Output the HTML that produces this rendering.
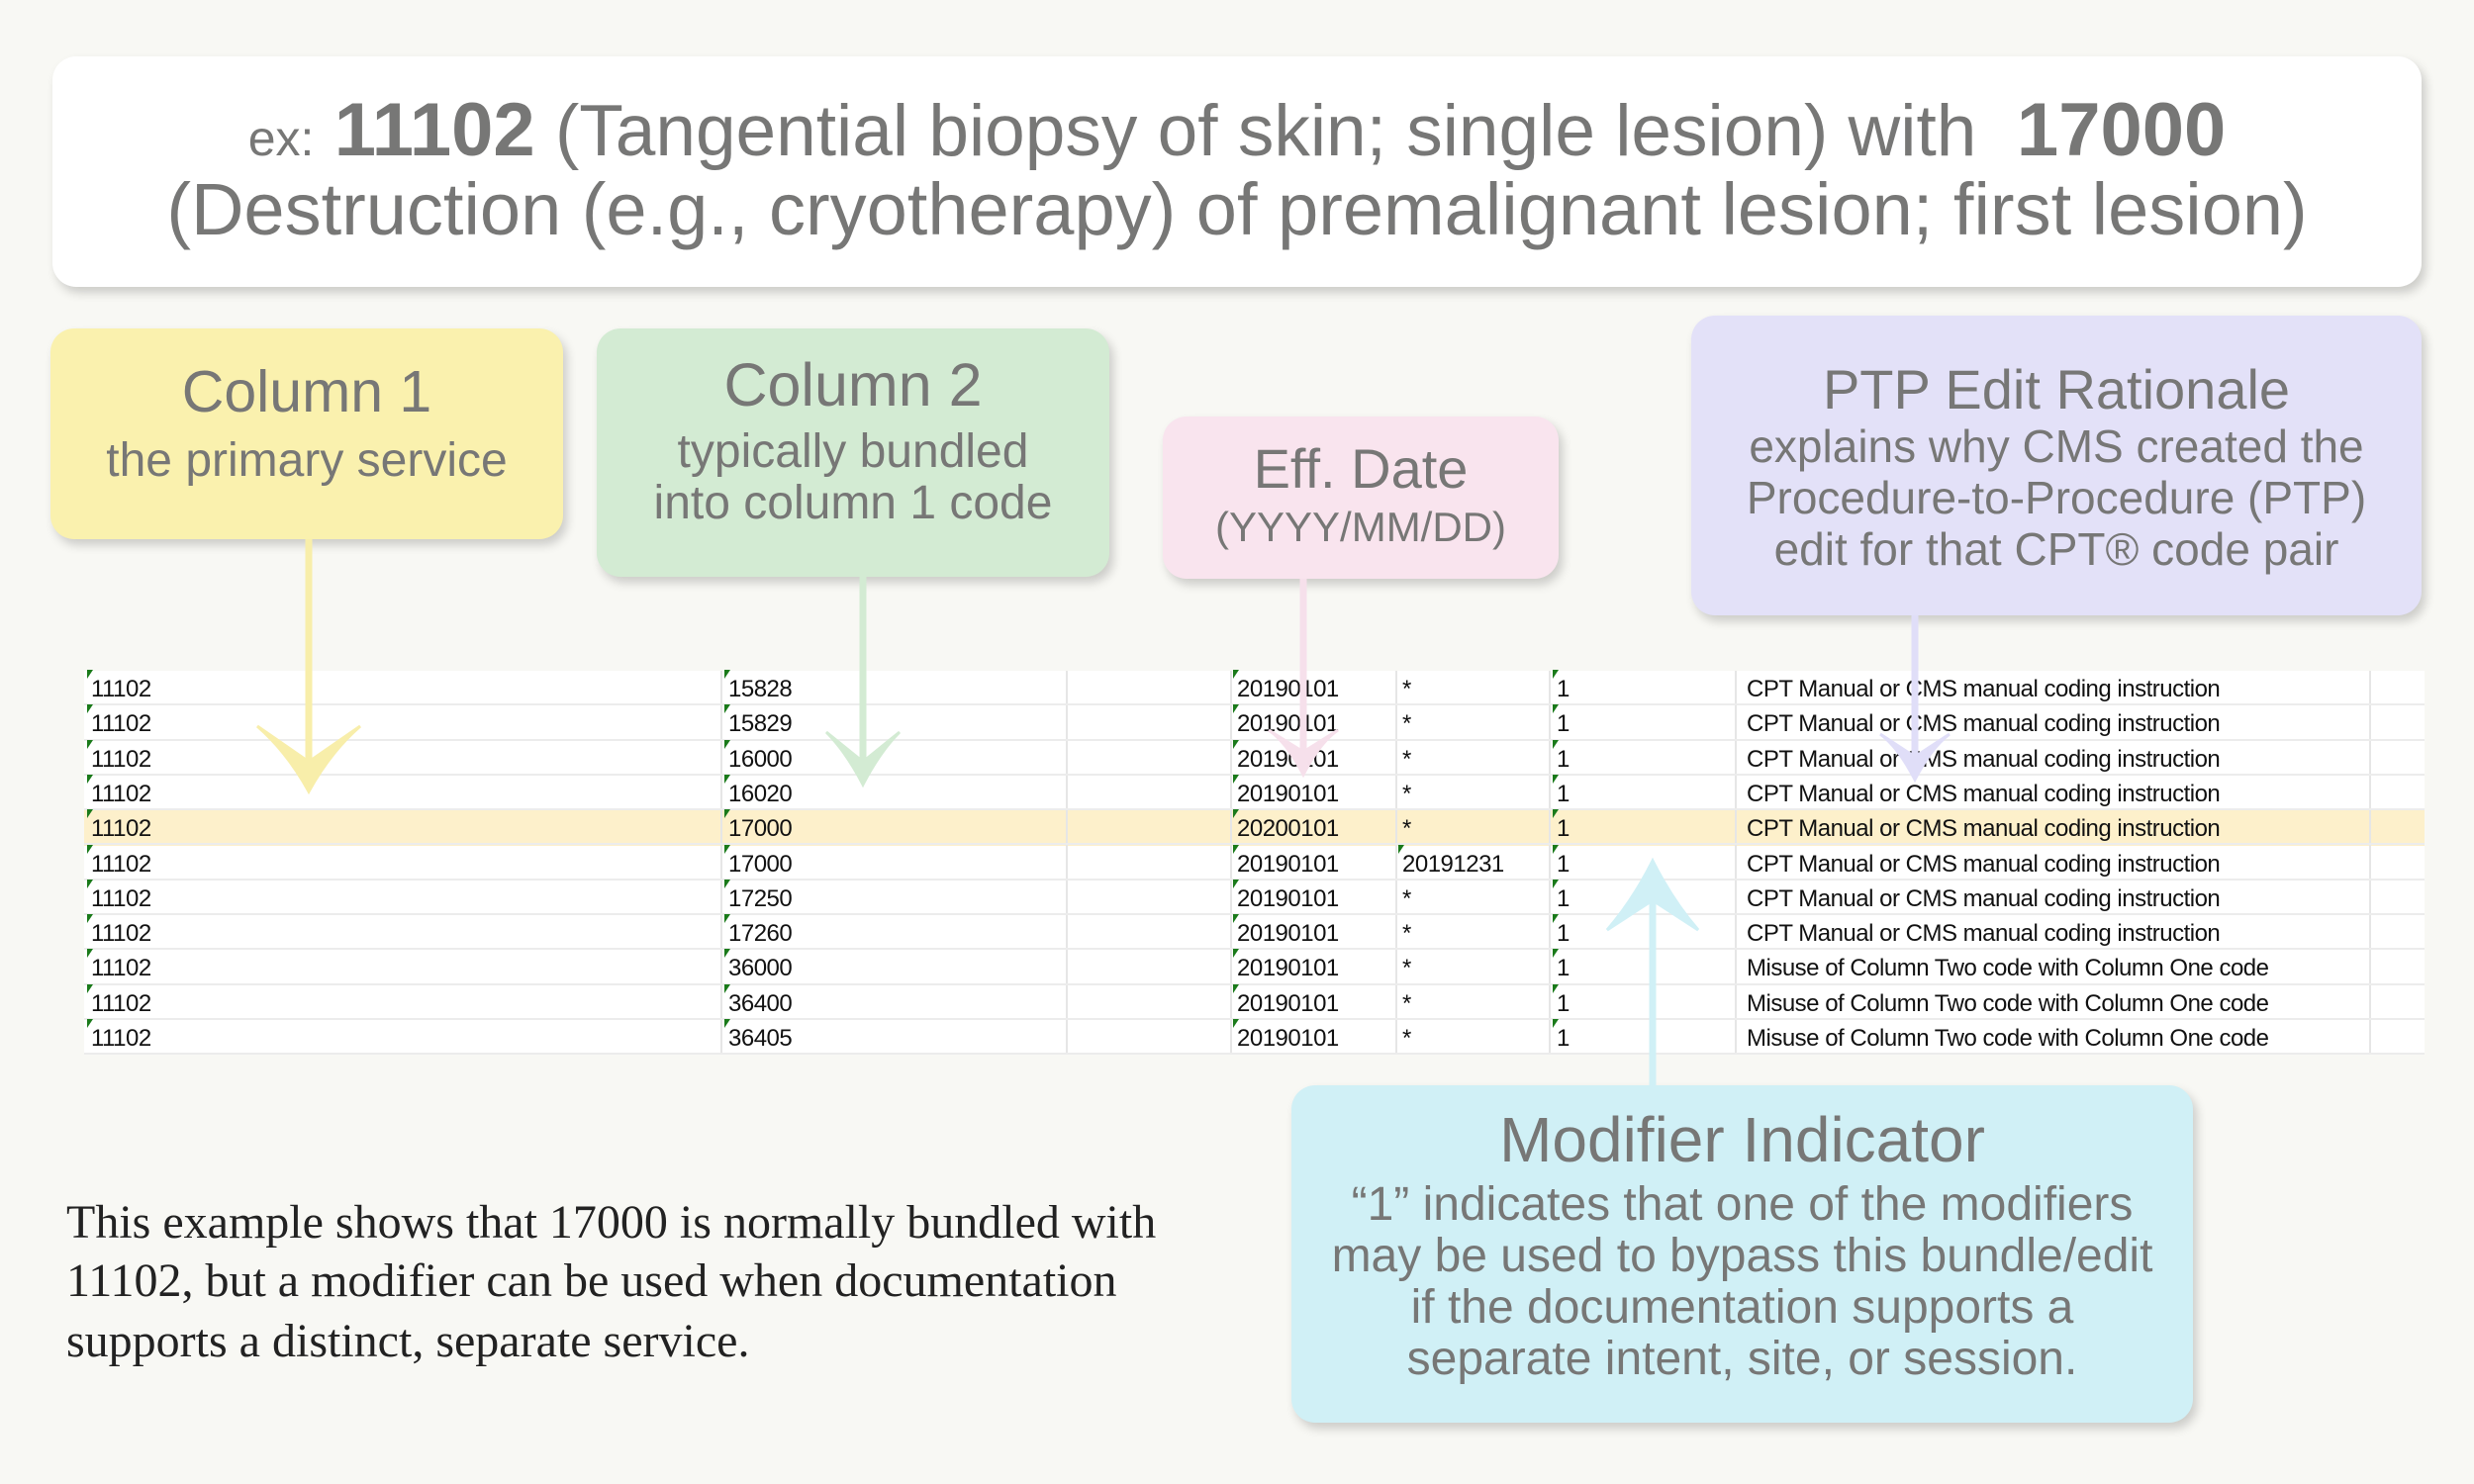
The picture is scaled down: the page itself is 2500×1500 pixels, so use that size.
<!DOCTYPE html>
<html><head><meta charset="utf-8"><style>
*{margin:0;padding:0;box-sizing:border-box}
body{width:2500px;height:1500px;background:#f8f8f4;position:relative;overflow:hidden;font-family:"Liberation Sans",sans-serif;color:#777776}
.box{position:absolute;border-radius:24px;box-shadow:4px 6px 10px rgba(0,0,0,0.18);text-align:center}
.t{position:absolute;left:0;right:0;text-align:center;white-space:nowrap}
.tbl{position:absolute;left:85px;top:678px;width:2365px;height:388px;background:#fff}
.row{position:absolute;left:0;width:2365px;height:35.3px;border-bottom:2px solid #ececec}
.c{position:absolute;top:7px;font-size:24px;color:#111;letter-spacing:-0.5px;white-space:nowrap}
.g::before{content:"";position:absolute;left:-4px;top:-6px;border-top:9px solid #1a7a1a;border-right:6px solid transparent}
.vl{position:absolute;top:0;width:2px;height:388px;background:#e6e6e6}
.serif{position:absolute;left:67px;font-family:"Liberation Serif",serif;font-size:48px;color:#222}
</style></head><body>

<div class="box" style="left:53px;top:57px;width:2394px;height:233px;background:#fff">
<div class="t" style="top:38px;font-size:73px;line-height:74px"><span style="font-size:50px">ex:</span> <b style="font-size:76px">11102</b> (Tangential biopsy of skin; single lesion) with&nbsp; <b style="font-size:76px">17000</b></div>
<div class="t" style="top:118px;font-size:74px;line-height:74px">(Destruction (e.g., cryotherapy) of premalignant lesion; first lesion)</div>
</div>

<div class="box" style="left:51px;top:332px;width:518px;height:213px;background:#faf1ae">
<div class="t" style="top:30px;font-size:59px">Column 1</div>
<div class="t" style="top:106px;font-size:48px">the primary service</div>
</div>
<div class="box" style="left:603px;top:332px;width:518px;height:251px;background:#d3ebd3">
<div class="t" style="top:22px;font-size:61px">Column 2</div>
<div class="t" style="top:99px;font-size:48px;line-height:52px">typically bundled<br>into column 1 code</div>
</div>
<div class="box" style="left:1175px;top:421px;width:400px;height:164px;background:#f9e4ee">
<div class="t" style="top:20px;font-size:56px">Eff. Date</div>
<div class="t" style="top:88px;font-size:42px">(YYYY/MM/DD)</div>
</div>
<div class="box" style="left:1709px;top:319px;width:738px;height:303px;background:#e3e1f8">
<div class="t" style="top:42px;font-size:56px">PTP Edit Rationale</div>
<div class="t" style="top:106px;font-size:46px;line-height:52px">explains why CMS created the<br>Procedure-to-Procedure (PTP)<br>edit for that CPT® code pair</div>
</div>

<div class="tbl">
<div style="position:absolute;left:0;top:141px;width:2365px;height:36px;background:#fdf0cb"></div>
<div class="vl" style="left:643px"></div><div class="vl" style="left:992px"></div><div class="vl" style="left:1158px"></div><div class="vl" style="left:1325px"></div><div class="vl" style="left:1480px"></div><div class="vl" style="left:1668px"></div><div class="vl" style="left:2309px"></div>
</div>
<div id="rows"></div>

<div class="box" style="left:1305px;top:1097px;width:911px;height:341px;background:#d0f0f6">
<div class="t" style="top:18px;font-size:64px">Modifier Indicator</div>
<div class="t" style="top:95px;font-size:48px;line-height:52px">“1” indicates that one of the modifiers<br>may be used to bypass this bundle/edit<br>if the documentation supports a<br>separate intent, site, or session.</div>
</div>

<div class="serif" style="top:1208px">This example shows that 17000 is normally bundled with</div>
<div class="serif" style="top:1267px">11102, but a modifier can be used when documentation</div>
<div class="serif" style="top:1328px">supports a distinct, separate service.</div>

<svg width="2500" height="1500" style="position:absolute;left:0;top:0">
<g stroke-width="7">
<line x1="312" y1="545" x2="312" y2="790" stroke="#f8eeaa"/>
<path d="M312,800 Q290,760 260,734 L312,770 L364,734 Q334,760 312,800Z" fill="#f8eeaa" stroke="#f8eeaa" stroke-width="3"/>
<line x1="872" y1="583" x2="872" y2="785" stroke="#d3ebd3"/>
<path d="M872,793 Q855,760 835,740 L872,770 L909,740 Q889,760 872,793Z" fill="#d3ebd3" stroke="#d3ebd3" stroke-width="3"/>
<line x1="1317" y1="585" x2="1317" y2="775" stroke="#f6e0eb"/>
<path d="M1317,783 Q1300,750 1282,738 L1317,760 L1352,738 Q1334,750 1317,783Z" fill="#f6e0eb" stroke="#f6e0eb" stroke-width="3"/>
<line x1="1935" y1="622" x2="1935" y2="780" stroke="#e0def8"/>
<path d="M1935,788 Q1918,755 1900,742 L1935,765 L1970,742 Q1952,755 1935,788Z" fill="#e0def8" stroke="#e0def8" stroke-width="3"/>
<line x1="1670" y1="1097" x2="1670" y2="880" stroke="#d0f0f6"/>
<path d="M1670,870 Q1650,910 1624,940 L1670,910 L1716,940 Q1690,910 1670,870Z" fill="#d0f0f6" stroke="#d0f0f6" stroke-width="3"/>
</g>
</svg>

<script>
var d=[["15828","20190101","*","CPT Manual or CMS manual coding instruction"],["15829","20190101","*","CPT Manual or CMS manual coding instruction"],["16000","20190101","*","CPT Manual or CMS manual coding instruction"],["16020","20190101","*","CPT Manual or CMS manual coding instruction"],["17000","20200101","*","CPT Manual or CMS manual coding instruction"],["17000","20190101","20191231","CPT Manual or CMS manual coding instruction"],["17250","20190101","*","CPT Manual or CMS manual coding instruction"],["17260","20190101","*","CPT Manual or CMS manual coding instruction"],["36000","20190101","*","Misuse of Column Two code with Column One code"],["36400","20190101","*","Misuse of Column Two code with Column One code"],["36405","20190101","*","Misuse of Column Two code with Column One code"]];
var h="";
for(var i=0;i<11;i++){var y=678+i*35.3;var r=d[i];
h+='<div class="row" style="left:85px;top:'+y+'px;position:absolute"></div>';
function c(x,t,g){h+='<div class="c'+(g?' g':'')+'" style="position:absolute;left:'+x+'px;top:'+(y+5)+'px">'+t+'</div>';}
c(92,"11102",1);c(736,r[0],1);c(1250,r[1],1);c(1417,r[2],r[2]!="*");c(1573,"1",1);c(1765,r[3],0);}
document.getElementById("rows").outerHTML=h;
</script>
</body></html>
